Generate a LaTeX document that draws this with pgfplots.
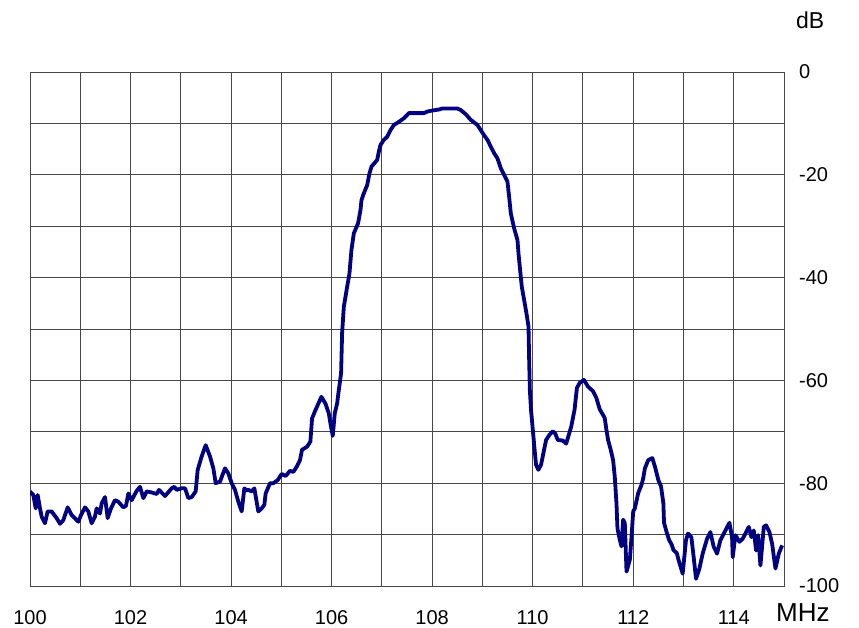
\documentclass[border=0pt]{standalone}
\usepackage{pgfplots}
\pgfplotsset{compat=1.18}
\usepackage{fontspec}
\setmainfont{Liberation Sans}
\definecolor{trace}{RGB}{0,0,128}
\definecolor{gridc}{RGB}{70,70,70}

\begin{document}
\begin{tikzpicture}
\begin{axis}[
    at={(0,0)}, anchor=south west,
    scale only axis,
    width=754pt, height=514pt,
    xmin=100, xmax=115,
    ymin=-100, ymax=0,
    xtick={100,101,...,115},
    xticklabels={100,,102,,104,,106,,108,,110,,112,,114,},
    ytick={-100,-90,...,0},
    yticklabels={-100,,-80,,-60,,-40,,-20,,0},
    major tick length=0pt,
    grid=major,
    grid style={gridc, line width=0.9pt},
    axis line style={gridc, line width=0.9pt},
    yticklabel pos=right,
    ticklabel style={font=\fontsize{20}{24}\selectfont, inner sep=0pt},
    xticklabel style={anchor=base, yshift=-39pt},
    yticklabel style={anchor=west, xshift=15pt},
    every axis x label/.style={at={(rel axis cs:1,0)}, anchor=base west,
        xshift=-8pt, yshift=-36pt, inner sep=0pt, font=\fontsize{26}{30}\selectfont},
    every axis y label/.style={at={(rel axis cs:1,1)}, anchor=base west,
        xshift=12pt, yshift=43pt, inner sep=0pt, font=\fontsize{23}{27}\selectfont},
    xlabel={MHz},
    ylabel={dB},
    ]
\addplot[trace, line width=3.8pt, line join=round, mark=none] coordinates {
(100.000,-81.6) (100.066,-82.3) (100.113,-84.9) (100.153,-82.3) (100.199,-84.9)
(100.232,-86.5) (100.298,-87.8) (100.351,-85.5) (100.431,-85.5) (100.530,-86.8)
(100.597,-87.9) (100.663,-87.2) (100.749,-84.7) (100.829,-86.2) (100.962,-87.5)
(101.015,-86.2) (101.094,-84.7) (101.160,-85.5) (101.227,-87.8) (101.293,-86.5)
(101.326,-84.9) (101.393,-85.9) (101.426,-83.9) (101.492,-82.7) (101.545,-86.8)
(101.611,-84.9) (101.691,-83.3) (101.757,-83.6) (101.857,-84.7) (101.910,-84.4)
(101.956,-82.0) (102.023,-83.3) (102.122,-81.5) (102.188,-80.7) (102.255,-82.9)
(102.321,-81.6) (102.420,-81.8) (102.520,-82.1) (102.566,-81.3) (102.686,-82.5)
(102.818,-81.0) (102.871,-80.7) (102.918,-81.3) (103.017,-81.0) (103.084,-81.0)
(103.150,-82.9) (103.216,-82.7) (103.296,-81.6) (103.336,-77.4) (103.415,-74.8)
(103.495,-72.6) (103.581,-74.8) (103.647,-77.1) (103.694,-80.0) (103.780,-79.7)
(103.879,-77.1) (103.946,-78.1) (104.012,-80.0) (104.078,-81.3) (104.145,-83.6)
(104.211,-85.5) (104.264,-81.0) (104.310,-81.4) (104.344,-81.3) (104.410,-81.6)
(104.463,-81.0) (104.542,-85.5) (104.609,-84.9) (104.662,-84.2) (104.688,-82.0)
(104.775,-80.0) (104.841,-80.0) (104.927,-79.4) (105.007,-78.2) (105.086,-78.6)
(105.172,-77.6) (105.239,-77.8) (105.305,-76.8) (105.371,-75.5) (105.412,-73.5)
(105.512,-72.9) (105.578,-71.9) (105.611,-67.4) (105.678,-65.8) (105.797,-63.2)
(105.877,-64.5) (105.944,-66.4) (105.977,-68.4) (106.023,-70.8) (106.063,-66.4)
(106.110,-64.5) (106.143,-61.9) (106.189,-58.6) (106.209,-50.8) (106.243,-45.7)
(106.309,-41.8) (106.355,-39.2) (106.395,-34.6) (106.442,-31.4) (106.528,-29.4)
(106.575,-26.8) (106.595,-24.9) (106.641,-23.6) (106.708,-22.0) (106.754,-19.7)
(106.794,-18.4) (106.907,-17.1) (106.940,-15.5) (106.973,-14.2) (107.040,-13.2)
(107.106,-12.6) (107.173,-11.3) (107.239,-10.3) (107.339,-9.7) (107.439,-9.0)
(107.538,-8.0) (107.837,-8.0) (107.904,-7.7) (108.003,-7.5) (108.136,-7.3)
(108.203,-7.1) (108.502,-7.1) (108.568,-7.4) (108.668,-8.2) (108.767,-9.3)
(108.900,-10.3) (108.967,-11.3) (109.033,-12.3) (109.100,-13.2) (109.166,-14.5)
(109.233,-15.8) (109.299,-16.8) (109.365,-18.7) (109.432,-20.0) (109.498,-21.3)
(109.532,-24.3) (109.565,-27.5) (109.631,-30.4) (109.698,-32.7) (109.718,-35.3)
(109.744,-37.9) (109.784,-41.8) (109.831,-44.4) (109.877,-47.0) (109.917,-49.5)
(109.930,-56.0) (109.944,-61.9) (109.967,-65.7) (110.000,-69.3) (110.033,-72.9)
(110.067,-76.4) (110.113,-77.4) (110.167,-76.4) (110.233,-73.2) (110.267,-71.6)
(110.333,-70.6) (110.400,-69.9) (110.447,-70.3) (110.500,-71.6) (110.600,-71.7)
(110.667,-72.3) (110.700,-71.2) (110.767,-69.0) (110.833,-65.7) (110.880,-61.5)
(110.933,-60.5) (111.020,-59.9) (111.100,-61.2) (111.200,-62.1) (111.267,-63.4)
(111.333,-65.6) (111.433,-67.3) (111.467,-69.6) (111.500,-71.6) (111.553,-73.5)
(111.600,-75.5) (111.633,-78.7) (111.667,-83.9) (111.687,-88.8) (111.733,-91.0)
(111.767,-92.3) (111.800,-87.1) (111.833,-87.8) (111.867,-97.2) (111.933,-94.9)
(111.967,-90.4) (112.000,-85.5) (112.033,-84.9) (112.100,-81.9) (112.167,-80.3)
(112.200,-79.0) (112.233,-77.1) (112.300,-75.5) (112.380,-75.1) (112.433,-76.8)
(112.500,-79.4) (112.553,-80.6) (112.600,-83.9) (112.613,-87.7) (112.667,-89.6)
(112.713,-91.0) (112.767,-92.0) (112.800,-93.0) (112.867,-93.6) (112.904,-95.0)
(112.984,-97.6) (113.050,-91.1) (113.090,-89.8) (113.157,-90.5) (113.203,-94.4)
(113.250,-98.6) (113.317,-96.6) (113.382,-93.7) (113.469,-90.8) (113.535,-89.5)
(113.602,-92.4) (113.668,-93.7) (113.734,-91.1) (113.834,-89.2) (113.914,-87.7)
(113.967,-90.5) (113.980,-94.4) (114.033,-90.1) (114.113,-91.4) (114.179,-90.8)
(114.232,-89.8) (114.299,-88.5) (114.352,-90.5) (114.398,-89.2) (114.445,-93.1)
(114.485,-90.1) (114.531,-96.0) (114.598,-88.5) (114.644,-88.2) (114.710,-89.5)
(114.764,-91.8) (114.830,-96.6) (114.896,-93.7) (114.963,-92.1)
};
\end{axis}
\pgfresetboundingbox
\path[use as bounding box] (-30pt,-42pt) rectangle (829pt,586pt);
\end{tikzpicture}
\end{document}
